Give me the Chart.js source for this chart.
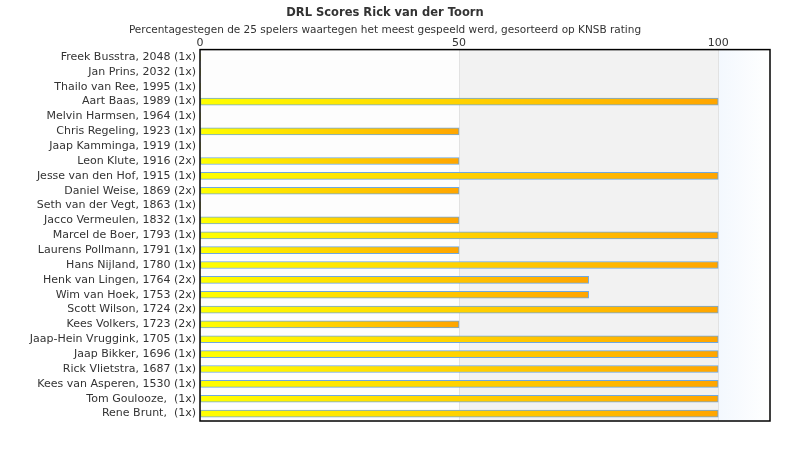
<!DOCTYPE html>
<html lang="nl">
<head>
  <meta charset="UTF-8">
  <title>DRL Scores Rick van der Toorn</title>
  <script src="https://cdn.jsdelivr.net/npm/chart.js"></script>
  <style>
    body { margin: 0; padding: 0; background: #ffffff; }
    .wrap { width: 790px; height: 450px; }
  </style>
</head>
<body>
  <div class="wrap"><canvas id="grafiek" width="790" height="450"></canvas></div>

  <script>
    const spelers = [
      'Freek Busstra, 2048 (1x)', 'Jan Prins, 2032 (1x)', 'Thailo van Ree, 1995 (1x)',
      'Aart Baas, 1989 (1x)', 'Melvin Harmsen, 1964 (1x)', 'Chris Regeling, 1923 (1x)',
      'Jaap Kamminga, 1919 (1x)', 'Leon Klute, 1916 (2x)', 'Jesse van den Hof, 1915 (1x)',
      'Daniel Weise, 1869 (2x)', 'Seth van der Vegt, 1863 (1x)', 'Jacco Vermeulen, 1832 (1x)',
      'Marcel de Boer, 1793 (1x)', 'Laurens Pollmann, 1791 (1x)', 'Hans Nijland, 1780 (1x)',
      'Henk van Lingen, 1764 (2x)', 'Wim van Hoek, 1753 (2x)', 'Scott Wilson, 1724 (2x)',
      'Kees Volkers, 1723 (2x)', 'Jaap-Hein Vruggink, 1705 (1x)', 'Jaap Bikker, 1696 (1x)',
      'Rick Vlietstra, 1687 (1x)', 'Kees van Asperen, 1530 (1x)', 'Tom Goulooze,  (1x)',
      'Rene Brunt,  (1x)'
    ];
    const scores = [0, 0, 0, 100, 0, 50, 0, 50, 100, 50, 0, 50, 100, 50, 100, 75, 75, 100, 50, 100, 100, 100, 100, 100, 100];
    const tickWaarden = [0, 50, 100];
    const asMax = 110;

    // achtergrondbanden + kader
    const achtergrond = {
      id: 'achtergrond',
      beforeDraw(chart) {
        const { ctx, chartArea: a, scales: { x } } = chart;
        const p0 = x.getPixelForValue(0), p50 = x.getPixelForValue(50), p100 = x.getPixelForValue(100);
        ctx.save();
        ctx.fillStyle = '#fdfdfd';
        ctx.fillRect(p0, a.top, p50 - p0, a.bottom - a.top);
        ctx.fillStyle = '#f2f2f2';
        ctx.fillRect(p50, a.top, p100 - p50, a.bottom - a.top);
        const g = ctx.createLinearGradient(p100, 0, a.right, 0);
        g.addColorStop(0, '#f3f8fe');
        g.addColorStop(1, '#ffffff');
        ctx.fillStyle = g;
        ctx.fillRect(p100, a.top, a.right - p100, a.bottom - a.top);
        ctx.restore();
      },
      afterDraw(chart) {
        const { ctx, chartArea: a } = chart;
        ctx.save();
        ctx.strokeStyle = '#000000';
        ctx.lineWidth = 1.5;
        ctx.strokeRect(a.left, a.top, a.right - a.left, a.bottom - a.top);
        ctx.restore();
      }
    };

    function balkKleur(context) {
      const chart = context.chart;
      if (!chart.chartArea) return '#ffd700';
      const x = chart.scales.x;
      const x0 = x.getPixelForValue(0);
      const x1 = x.getPixelForValue(context.raw || 0);
      if (x1 - x0 < 1) return '#ffff00';
      const g = chart.ctx.createLinearGradient(x0, 0, x1, 0);
      g.addColorStop(0, '#ffff00');
      g.addColorStop(1, '#ffa500');
      return g;
    }

    new Chart(document.getElementById('grafiek'), {
      type: 'bar',
      data: {
        labels: spelers,
        datasets: [{
          label: 'Score',
          data: scores,
          backgroundColor: balkKleur,
          borderColor: '#6fa8e0',
          borderWidth: ctx => (ctx.raw ? 1 : 0),
          borderSkipped: false,
          barThickness: 7
        }]
      },
      options: {
        indexAxis: 'y',
        responsive: false,
        animation: false,
        layout: { padding: { left: 0, right: 20, top: 0, bottom: 29 } },
        plugins: {
          legend: { display: false },
          tooltip: { enabled: false },
          title: {
            display: true,
            text: 'DRL Scores Rick van der Toorn',
            color: '#333333',
            font: { family: 'DejaVu Sans', size: 11.5, weight: 'bold' },
            padding: { top: 6, bottom: 3 }
          },
          subtitle: {
            display: true,
            text: 'Percentagestegen de 25 spelers waartegen het meest gespeeld werd, gesorteerd op KNSB rating',
            color: '#333333',
            font: { family: 'DejaVu Sans', size: 10.5 },
            padding: { top: 1, bottom: 0 }
          }
        },
        scales: {
          x: {
            position: 'top',
            min: 0,
            max: asMax,
            afterBuildTicks: s => { s.ticks = tickWaarden.map(v => ({ value: v })); },
            ticks: {
              color: '#333333',
              font: { family: 'DejaVu Sans', size: 11 },
              padding: 0,
              maxRotation: 0
            },
            grid: {
              color: ctx => (ctx.tick && ctx.tick.value === 0 ? 'rgba(0,0,0,0)' : '#e2e2e2'),
              drawTicks: false
            },
            border: { display: false }
          },
          y: {
            afterFit: s => { s.width = 200; },
            ticks: {
              color: '#333333',
              font: { family: 'DejaVu Sans', size: 11 },
              padding: 4,
              autoSkip: false
            },
            grid: { display: false, drawTicks: false },
            border: { display: false }
          }
        }
      },
      plugins: [achtergrond]
    });
  </script>
</body>
</html>
